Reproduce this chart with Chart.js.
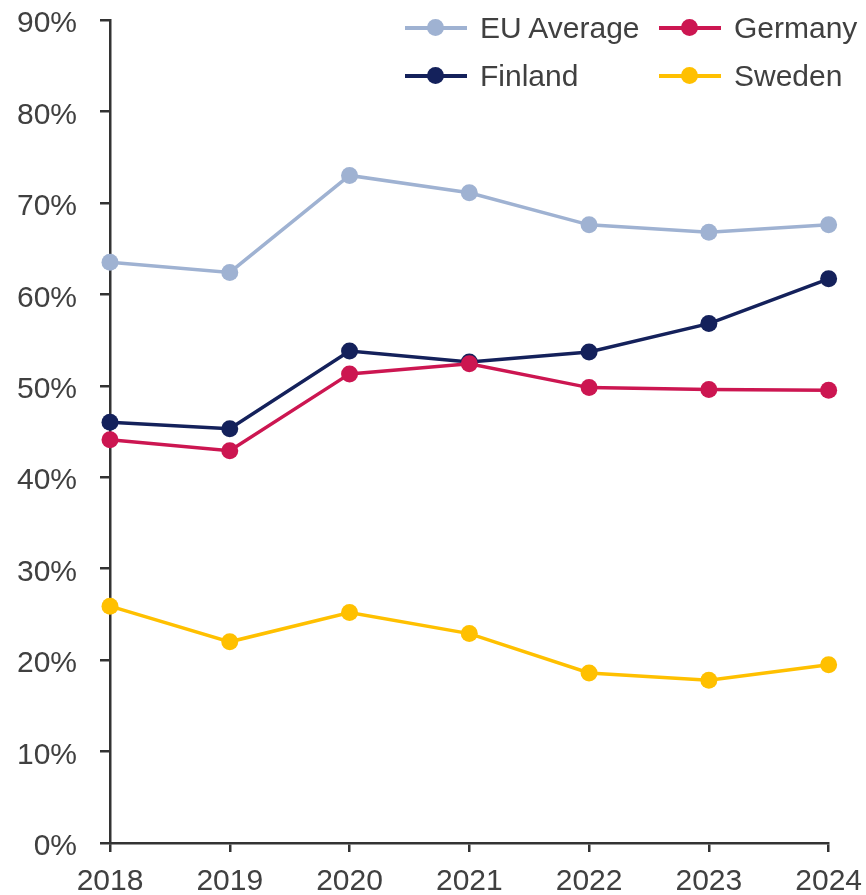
<!DOCTYPE html>
<html>
<head>
<meta charset="utf-8">
<script src="https://cdn.jsdelivr.net/npm/chart.js@4"></script>
<style>
  html, body { margin: 0; padding: 0; background: #fff; }
  #wrap { position: relative; width: 866px; height: 895px; overflow: hidden; }
  #c { position: absolute; left: 0; top: -21px; }
  #legend { position: absolute; left: 405px; top: 8px; display: grid; grid-template-columns: 254px 200px; row-gap: 8px;
    font-family: "Liberation Sans", Arial, sans-serif; font-size: 30px; color: #404040; }
  .item { display: flex; align-items: center; height: 40px; }
  .mk { position: relative; width: 62px; height: 3.5px; margin-right: 13px; }
  .mk span { position: absolute; left: 22px; top: -7px; width: 17px; height: 17px; border-radius: 50%; }
</style>
</head>
<body>
<div id="wrap">
  <canvas id="c" width="874" height="916"></canvas>
  <div id="legend"></div>
</div>
<script>
const years = ["2018", "2019", "2020", "2021", "2022", "2023", "2024"];
const euAverage = [63.5, 62.4, 73.0, 71.1, 67.6, 66.8, 67.6];
const germany   = [44.1, 42.9, 51.3, 52.4, 49.8, 49.6, 49.5];
const finland   = [46.0, 45.3, 53.8, 52.6, 53.7, 56.8, 61.7];
const sweden    = [25.9, 22.0, 25.2, 22.9, 18.6, 17.8, 19.5];
const yTicks = [0, 10, 20, 30, 40, 50, 60, 70, 80, 90];

const series = [
  { label: "EU Average", data: euAverage, color: "#9fb2d2" },
  { label: "Germany", data: germany, color: "#cc1651" },
  { label: "Finland", data: finland, color: "#14215b" },
  { label: "Sweden", data: sweden, color: "#ffc000" }
];

const axisColor = "#333333";
const textColor = "#404040";
const fontFamily = "'Liberation Sans', Arial, sans-serif";

new Chart(document.getElementById("c"), {
  type: "line",
  data: {
    labels: years,
    datasets: series.map(s => ({
      label: s.label,
      data: s.data,
      borderColor: s.color,
      backgroundColor: s.color,
      pointBackgroundColor: s.color,
      pointBorderColor: s.color,
      pointBorderWidth: 0,
      pointRadius: 8.5,
      borderWidth: 3.5,
      tension: 0,
      clip: false
    }))
  },
  options: {
    responsive: false,
    animation: false,
    events: [],
    layout: { padding: 0 },
    plugins: { legend: { display: false }, tooltip: { enabled: false } },
    scales: {
      x: {
        offset: false,
        grid: { display: true, drawOnChartArea: false, drawTicks: true, tickLength: 9, color: axisColor, lineWidth: 2.5 },
        border: { display: true, color: axisColor, width: 2.5 },
        ticks: { color: textColor, font: { family: fontFamily, size: 30 }, padding: 12, maxRotation: 0, autoSkip: false },
        afterFit: s => { s.height = 52; }
      },
      y: {
        min: 0, max: 90,
        afterBuildTicks: s => { s.ticks = yTicks.map(v => ({ value: v })); },
        grid: { display: true, drawOnChartArea: false, drawTicks: true, tickLength: 10, color: axisColor, lineWidth: 2.5 },
        border: { display: true, color: axisColor, width: 2.5 },
        ticks: { color: textColor, font: { family: fontFamily, size: 30 }, padding: 23, labelOffset: 4, callback: v => v + "%" },
        afterFit: s => { s.width = 110; }
      }
    }
  }
});

const legend = document.getElementById("legend");
series.forEach(s => {
  const item = document.createElement("div");
  item.className = "item";
  const mk = document.createElement("div");
  mk.className = "mk";
  mk.style.background = s.color;
  const dot = document.createElement("span");
  dot.style.background = s.color;
  mk.appendChild(dot);
  const t = document.createElement("div");
  t.textContent = s.label;
  item.appendChild(mk);
  item.appendChild(t);
  legend.appendChild(item);
});
</script>
</body>
</html>
